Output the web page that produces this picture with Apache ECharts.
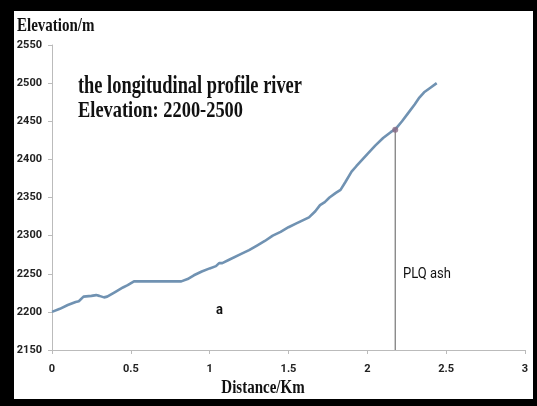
<!DOCTYPE html>
<html>
<head>
<meta charset="utf-8">
<script src="https://cdn.jsdelivr.net/npm/echarts@6/dist/echarts.min.js"></script>
<style>html,body{margin:0;padding:0;background:#000;}#c{width:537px;height:406px;}</style>
</head>
<body>
<div id="c"></div>
<script>
const distance = [0, 0.05, 0.1, 0.15, 0.17, 0.2, 0.25, 0.28, 0.3, 0.33, 0.35, 0.4, 0.45, 0.48, 0.52, 0.6, 0.7, 0.82, 0.86, 0.9, 0.95, 1.0, 1.04, 1.06, 1.08, 1.12, 1.2, 1.25, 1.3, 1.35, 1.4, 1.45, 1.5, 1.55, 1.6, 1.63, 1.67, 1.7, 1.73, 1.76, 1.8, 1.83, 1.86, 1.9, 1.93, 2.0, 2.05, 2.1, 2.15, 2.18, 2.22, 2.26, 2.3, 2.33, 2.36, 2.4, 2.44];
const elevation = [2200, 2204, 2209, 2213, 2214, 2220, 2221, 2222, 2221, 2219, 2220, 2226, 2232, 2235, 2240, 2240, 2240, 2240, 2243, 2248, 2253, 2257, 2260, 2264, 2264, 2268, 2276, 2281, 2287, 2293, 2300, 2305, 2311, 2316, 2321, 2324, 2332, 2340, 2344, 2350, 2356, 2360, 2370, 2384, 2391, 2407, 2418, 2428, 2436, 2440, 2450, 2461, 2472, 2481, 2488, 2494, 2500];
const ashDistance = 2.177;
const ashElevation = 2439;
const xTicks = [0, 0.5, 1, 1.5, 2, 2.5, 3];
const yTicks = [2150, 2200, 2250, 2300, 2350, 2400, 2450, 2500, 2550];

const chart = echarts.init(document.getElementById('c'));
const serif = "'Liberation Serif', 'DejaVu Serif', serif";
function txt(text, x, y, font, sy, align) {
  return { type: 'text', x: x, y: y, scaleY: sy,
    style: { text: text, x: 0, y: 0, font: font, fill: '#111', textBaseline: 'top', textAlign: align || 'left' } };
}
chart.setOption({
  backgroundColor: '#000',
  animation: false,
  graphic: [
    { type: 'rect', z: -10, shape: { x: 14, y: 11, width: 519, height: 388 }, style: { fill: '#fff' } },
    txt('Elevation/m', 17, 16, 'bold 15px ' + serif, 1.28),
    txt('the longitudinal profile river', 78, 74.5, 'bold 18.4px ' + serif, 1.35),
    txt('Elevation: 2200-2500', 78, 99.2, 'bold 18.4px ' + serif, 1.3),
    txt('Distance/Km', 263, 378.5, 'bold 15px ' + serif, 1.25, 'center'),
    txt('PLQ ash', 403, 267.2, '13px Roboto, sans-serif', 1.15),
    txt('a', 216, 302.7, 'bold 13px Roboto, sans-serif', 1.15)
  ],
  grid: { left: 52, right: 12, top: 45, bottom: 56, containLabel: false },
  xAxis: {
    type: 'value', min: 0, max: 3, interval: 0.5,
    axisLine: { lineStyle: { color: '#bbb', width: 1 } },
    axisTick: { show: true, length: 4, lineStyle: { color: '#bbb' } },
    axisLabel: { fontFamily: 'Roboto, sans-serif', fontWeight: 'bold', fontSize: 11, color: '#222', margin: 14,
      formatter: v => String(xTicks.includes(v) ? v : '') },
    splitLine: { show: false }
  },
  yAxis: {
    type: 'value', min: 2150, max: 2550, interval: 50,
    axisLine: { show: true, lineStyle: { color: '#bbb', width: 1 } },
    axisTick: { show: true, length: 4, lineStyle: { color: '#bbb' } },
    axisLabel: { fontFamily: 'Roboto, sans-serif', fontWeight: 'bold', fontSize: 11, color: '#222', margin: 10,
      formatter: v => String(yTicks.includes(v) ? v : '') },
    splitLine: { show: false }
  },
  series: [
    {
      type: 'line', data: [[ashDistance, yTicks[0]], [ashDistance, ashElevation]],
      symbol: 'none', lineStyle: { color: '#777', width: 1.2 }, z: 1
    },
    {
      type: 'line', data: distance.map((d, i) => [d, elevation[i]]),
      symbol: 'none', smooth: false,
      lineStyle: { color: '#7092b2', width: 2.6 }, z: 2
    },
    {
      type: 'scatter', data: [[ashDistance, ashElevation]],
      symbolSize: 6, itemStyle: { color: '#8a6a84' }, z: 3
    }
  ]
});
</script>
</body>
</html>
